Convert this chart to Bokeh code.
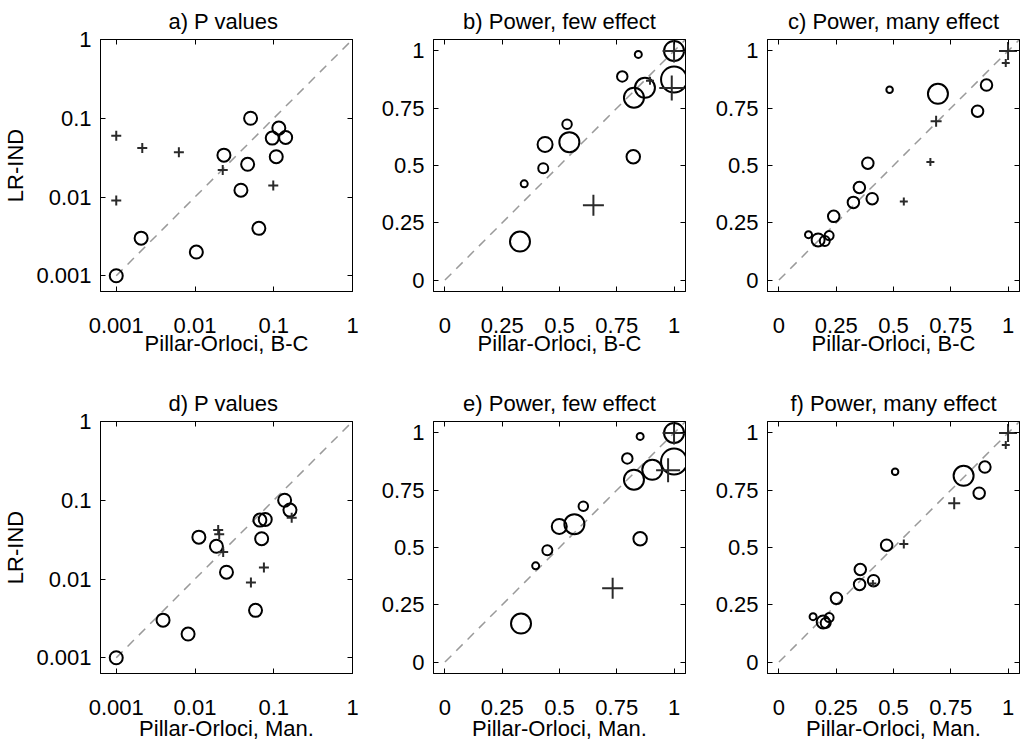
import math
from bokeh.plotting import figure
from bokeh.layouts import column, row
from bokeh.models import (Range1d, FixedTicker, CustomJSTickFormatter,
                          LinearAxis, LogAxis)
from bokeh.embed import file_html
from bokeh.resources import INLINE

FONT = "Liberation Sans"
FS = "22px"

# ---------------- data ----------------
P_TICKS = [0.001, 0.01, 0.1, 1]
POW_TICKS = [0, 0.25, 0.5, 0.75, 1]

# P values (LR-IND on y); circles and crosses
lr_circ_y = [0.001, 0.003, 0.002, 0.034, 0.1, 0.026, 0.0122, 0.004, 0.056, 0.075, 0.057, 0.0325]
a_circ_x = [0.001, 0.00207, 0.0104, 0.0233, 0.0508, 0.0466, 0.0383, 0.0647, 0.0957, 0.116, 0.1416, 0.1076]
d_circ_x = [0.001, 0.00393, 0.00817, 0.0112, 0.1375, 0.0187, 0.0251, 0.0587, 0.0667, 0.1606, 0.078, 0.0702]
p_circ_size = [13] * 12

lr_plus_y = [0.06, 0.009, 0.042, 0.037, 0.022, 0.014]
a_plus_x = [0.001, 0.001, 0.00214, 0.00624, 0.0225, 0.0986]
d_plus_x = [0.169, 0.0513, 0.0197, 0.0203, 0.0228, 0.075]
p_plus_size = [10] * 6

# Power, few effect
few_circ_y = [0.168, 0.42, 0.488, 0.592, 0.68, 0.602, 0.538, 0.889, 0.985, 0.796, 0.839, 1.0, 0.875]
b_circ_x = [0.3275, 0.346, 0.429, 0.437, 0.533, 0.543, 0.822, 0.774, 0.844, 0.825, 0.873, 1.0, 1.0]
e_circ_x = [0.332, 0.396, 0.447, 0.499, 0.604, 0.565, 0.852, 0.796, 0.852, 0.825, 0.905, 1.0, 1.0]
few_circ_size = [20, 7, 10, 15, 9.5, 20, 13.5, 10.5, 7, 20, 20, 20, 26]

b_plus_x = [0.648, 0.99, 1.0, 0.895]
b_plus_y = [0.326, 0.838, 1.0, 0.87]
b_plus_size = [21, 25, 23, 8]
e_plus_x = [0.732, 0.974, 1.0]
e_plus_y = [0.322, 0.837, 1.0]
e_plus_size = [21, 24, 23]

# Power, many effect
many_circ_y = [0.198, 0.175, 0.17, 0.194, 0.278, 0.339, 0.404, 0.355, 0.51, 0.831, 0.813, 0.737, 0.851]
c_circ_x = [0.129, 0.171, 0.2, 0.219, 0.239, 0.325, 0.351, 0.407, 0.388, 0.483, 0.694, 0.867, 0.906]
f_circ_x = [0.149, 0.193, 0.204, 0.219, 0.251, 0.352, 0.355, 0.413, 0.470, 0.507, 0.806, 0.874, 0.899]
many_circ_size = [7, 13, 10, 9, 11.5, 11.5, 11.5, 11.5, 11.5, 6.5, 20, 11.5, 11.5]

many_plus_y = [0.343, 0.515, 0.693, 0.947, 1.0]
c_plus_x = [0.545, 0.661, 0.686, 0.99, 1.0]
f_plus_x = [0.41, 0.545, 0.765, 0.99, 1.0]
c_plus_size = [8, 8, 11, 8, 18]
f_plus_size = [7, 9, 12, 8, 18]

# ---------------- layout ----------------
FRAME = 252
LOG_RANGE = (10 ** -3.2, 1.0)
LIN_RANGE = (-0.05, 1.05)


def style_axis(ax, ticks, show_labels):
    ax.ticker = FixedTicker(ticks=ticks)
    ax.minor_tick_line_color = None
    ax.major_tick_in = 5
    ax.major_tick_out = 0
    ax.major_tick_line_color = "black"
    ax.major_tick_line_width = 1
    ax.axis_line_color = "black"
    ax.axis_line_width = 1
    ax.major_label_text_font = FONT
    ax.major_label_text_color = "black"
    if show_labels:
        ax.formatter = CustomJSTickFormatter(code="return String(tick)")
        ax.major_label_text_font_size = FS
    else:
        ax.formatter = CustomJSTickFormatter(code="return ''")
        ax.major_label_text_font_size = "2px"
        ax.major_label_standoff = 0


def make_panel(log, title, xlabel, ylabel, cx, cy, cs, px, py, ps, borders, xlab_standoff):
    lo, hi = LOG_RANGE if log else LIN_RANGE
    ticks = P_TICKS if log else POW_TICKS
    atype = "log" if log else "linear"
    left, right, top, bottom = borders
    p = figure(frame_width=FRAME, frame_height=FRAME,
               x_axis_type=atype, y_axis_type=atype,
               x_range=Range1d(lo, hi), y_range=Range1d(lo, hi),
               toolbar_location=None, output_backend="svg",
               min_border_left=left, min_border_right=right,
               min_border_top=top, min_border_bottom=bottom,
               background_fill_color="white", border_fill_color="white",
               outline_line_color="black", outline_line_width=1)
    p.grid.visible = False

    xa = p.xaxis[0]
    ya = p.yaxis[0]
    style_axis(xa, ticks, True)
    style_axis(ya, ticks, True)
    xa.major_label_standoff = 26
    ya.major_label_standoff = 9
    xa.axis_label = xlabel
    xa.axis_label_text_font = FONT
    xa.axis_label_text_font_size = FS
    xa.axis_label_text_font_style = "normal"
    xa.axis_label_text_color = "black"
    xa.axis_label_standoff = xlab_standoff
    if ylabel:
        ya.axis_label = ylabel
        ya.axis_label_text_font = FONT
        ya.axis_label_text_font_size = FS
        ya.axis_label_text_font_style = "normal"
        ya.axis_label_text_color = "black"
        ya.axis_label_standoff = 5

    AxisCls = LogAxis if log else LinearAxis
    top_ax = AxisCls()
    right_ax = AxisCls()
    style_axis(top_ax, ticks, False)
    style_axis(right_ax, ticks, False)
    p.add_layout(top_ax, "above")
    p.add_layout(right_ax, "right")

    # identity reference line
    line_pts = [0.001, 1.0] if log else [0.0, hi]
    p.line(x=line_pts, y=line_pts, line_color="#9a9a9a", line_width=1.5,
           line_dash="9 7")

    p.scatter(x=cx, y=cy, size=cs, marker="circle", fill_color=None,
              line_color="black", line_width=2)
    p.scatter(x=px, y=py, size=ps, marker="cross",
              line_color="#2a2a2a", line_width=2)

    p.title.text = title
    p.title.align = "center"
    p.title.offset = 4
    p.title.standoff = 12
    p.title.text_font = FONT
    p.title.text_font_size = FS
    p.title.text_font_style = "normal"
    p.title.text_color = "black"
    return p


XL1 = "Pillar-Orloci, B-C"
XL2 = "Pillar-Orloci, Man."
YL = "LR-IND"

B1 = (39, 87)
B2 = (43, 57)

pa = make_panel(True, "a) P  values", XL1, YL, a_circ_x, lr_circ_y, p_circ_size,
                a_plus_x, lr_plus_y, p_plus_size, (100, 11) + B1, -5)
pb = make_panel(False, "b) Power, few effect", XL1, None, b_circ_x, few_circ_y, few_circ_size,
                b_plus_x, b_plus_y, b_plus_size, (70, 12) + B1, -5)
pc = make_panel(False, "c) Power, many effect", XL1, None, c_circ_x, many_circ_y, many_circ_size,
                c_plus_x, many_plus_y, c_plus_size, (70, 3) + B1, -5)
pd = make_panel(True, "d) P  values", XL2, YL, d_circ_x, lr_circ_y, p_circ_size,
                d_plus_x, lr_plus_y, p_plus_size, (100, 11) + B2, -2)
pe = make_panel(False, "e) Power, few effect", XL2, None, e_circ_x, few_circ_y, few_circ_size,
                e_plus_x, e_plus_y, e_plus_size, (70, 12) + B2, -2)
pf = make_panel(False, "f) Power, many effect", XL2, None, f_circ_x, many_circ_y, many_circ_size,
                f_plus_x, many_plus_y, f_plus_size, (70, 3) + B2, -2)

layout = column(row(pa, pb, pc), row(pd, pe, pf))

open("out.html", "w").write(file_html(layout, INLINE))
